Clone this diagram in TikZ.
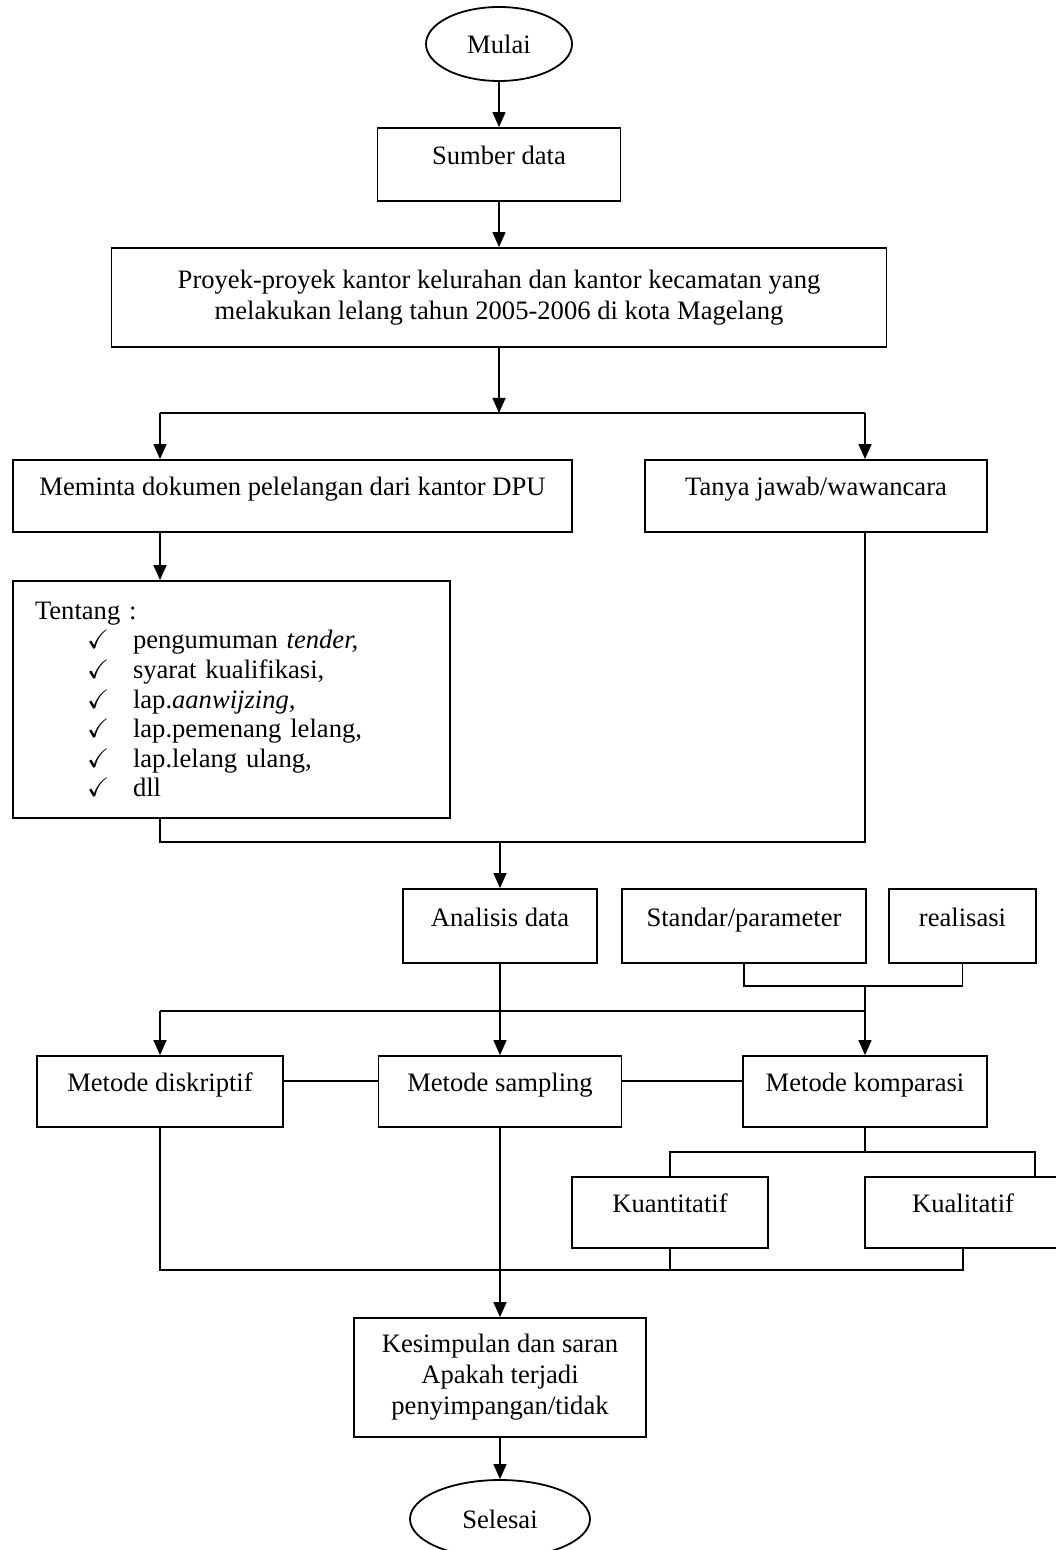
\documentclass[tikz,border=0pt]{standalone}
\usepackage{fontspec}
\setmainfont{Liberation Serif}
\usepackage{amssymb}
\usetikzlibrary{shapes.geometric, arrows.meta}

\tikzset{
  flowbox/.style={draw, line width=0.9pt, rectangle, inner sep=0pt, align=center,
    font=\fontsize{13.3}{15.5}\selectfont},
  onebox/.style={flowbox, text height=10pt, text depth=10pt},
  termin/.style={draw, line width=0.9pt, ellipse, inner sep=0pt,
    font=\fontsize{13.3}{15.5}\selectfont},
  arr/.style={line width=0.7pt, -{Triangle[length=7.5pt,width=6.5pt]}},
  link/.style={line width=0.7pt}
}

\begin{document}
\begin{tikzpicture}[x=0.5pt, y=-0.5pt]
  \useasboundingbox (0,0) rectangle (1055,1550);

  % Start and data source
  \node[termin, minimum width=73pt, minimum height=37pt] (mulai) at (499,44) {Mulai};
  \node[onebox, minimum width=121.5pt, minimum height=36.5pt] (sumber) at (499,164.5) {Sumber data};
  \node[flowbox, minimum width=387.5pt, minimum height=49.5pt] (proyek) at (499,297.5) {
    Proyek-proyek kantor kelurahan dan kantor kecamatan yang\\
    melakukan lelang tahun 2005-2006 di kota Magelang};

  % Data collection
  \node[onebox, minimum width=279.5pt, minimum height=36pt] (meminta) at (292.5,496) {Meminta dokumen pelelangan dari kantor DPU};
  \node[onebox, minimum width=171pt, minimum height=36pt] (tanya) at (816,496) {Tanya jawab/wawancara};
  \node[flowbox, align=left, inner xsep=11pt, text width=196.5pt, minimum height=118.5pt,
    font=\fontsize{13.3}{14.8}\selectfont] (tentang) at (231.5,699.5) {
    Tentang :\\
    \hspace*{26pt}\makebox[23pt][l]{$\checkmark$}pengumuman \textit{tender,}\\
    \hspace*{26pt}\makebox[23pt][l]{$\checkmark$}syarat kualifikasi,\\
    \hspace*{26pt}\makebox[23pt][l]{$\checkmark$}lap.\textit{aanwijzing,}\\
    \hspace*{26pt}\makebox[23pt][l]{$\checkmark$}lap.pemenang lelang,\\
    \hspace*{26pt}\makebox[23pt][l]{$\checkmark$}lap.lelang ulang,\\
    \hspace*{26pt}\makebox[23pt][l]{$\checkmark$}dll};

  % Analysis
  \node[onebox, minimum width=97pt, minimum height=37pt] (analisis) at (500,926) {Analisis data};
  \node[onebox, minimum width=122pt, minimum height=37pt] (standar) at (744,926) {Standar/parameter};
  \node[onebox, minimum width=73.5pt, minimum height=37pt] (realisasi) at (962.5,926) {realisasi};

  % Methods
  \node[onebox, minimum width=123pt, minimum height=35.5pt] (diskriptif) at (160,1091.5) {Metode diskriptif};
  \node[onebox, minimum width=121.5pt, minimum height=35.5pt] (sampling) at (500,1091.5) {Metode sampling};
  \node[onebox, minimum width=122pt, minimum height=35.5pt] (komparasi) at (865,1091.5) {Metode komparasi};
  \node[onebox, minimum width=98pt, minimum height=35.5pt] (kuantitatif) at (670,1212.5) {Kuantitatif};
  \node[onebox, minimum width=98pt, minimum height=35.5pt] (kualitatif) at (963,1212.5) {Kualitatif};

  % End
  \node[flowbox, minimum width=146pt, minimum height=59.5pt] (kesimpulan) at (500,1377.5) {
    Kesimpulan dan saran\\ Apakah terjadi\\ penyimpangan/tidak};
  \node[termin, minimum width=90pt, minimum height=39pt] (selesai) at (500,1519) {Selesai};

  % Junction points
  \coordinate (jL) at (160,413);
  \coordinate (jR) at (865,413);
  \coordinate (mL) at (160,842);
  \coordinate (mR) at (865,842);
  \coordinate (sr) at (0,986);
  \coordinate (dL) at (160,1011);
  \coordinate (hl) at (0,1081);
  \coordinate (kR) at (1035,1152);
  \coordinate (bl) at (0,1270);

  % Connectors
  \draw[arr] (mulai.south) -- (sumber.north);
  \draw[arr] (sumber.south) -- (proyek.north);
  \draw[arr] (proyek.south) -- (proyek.south |- jL);
  \draw[link] (jL) -- (jR);
  \draw[arr] (jL) -- (jL |- meminta.north);
  \draw[arr] (jR) -- (jR |- tanya.north);
  \draw[arr] (jL |- meminta.south) -- (jL |- tentang.north);
  \draw[link] (jL |- tentang.south) -- (mL) -- (mR) -- (jR |- tanya.south);
  \draw[arr] (analisis.north |- mL) -- (analisis.north);

  \draw[link] (standar.south) -- (standar.south |- sr) -- (realisasi.south |- sr) -- (realisasi.south);
  \draw[arr] (komparasi.north |- sr) -- (komparasi.north);
  \draw[link] (dL) -- (komparasi.north |- dL);
  \draw[arr] (dL) -- (diskriptif.north);
  \draw[arr] (analisis.south) -- (sampling.north);

  \draw[link] (diskriptif.east |- hl) -- (sampling.west |- hl);
  \draw[link] (sampling.east |- hl) -- (komparasi.west |- hl);
  \draw[link] (komparasi.south) -- (komparasi.south |- kR);
  \draw[link] (kuantitatif.north) -- (kuantitatif.north |- kR) -- (kR) -- (kR |- kualitatif.north);

  \draw[link] (diskriptif.south) -- (diskriptif.south |- bl) -- (kualitatif.south |- bl) -- (kualitatif.south);
  \draw[link] (kuantitatif.south) -- (kuantitatif.south |- bl);
  \draw[arr] (sampling.south) -- (kesimpulan.north);
  \draw[arr] (kesimpulan.south) -- (selesai.north);
\end{tikzpicture}
\end{document}
